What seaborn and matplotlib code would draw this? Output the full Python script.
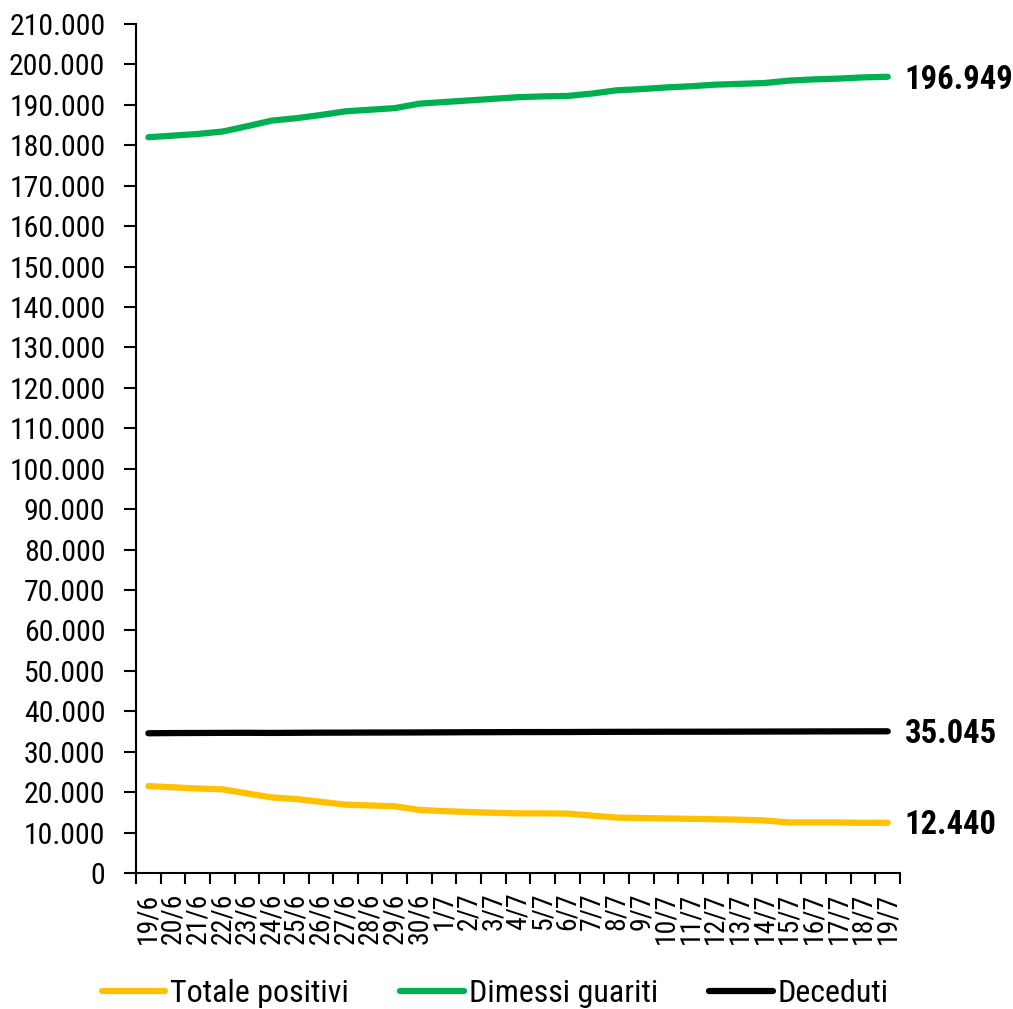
"""Andamento totale positivi, dimessi guariti e deceduti (19/6 - 19/7)."""
import matplotlib
matplotlib.use("Agg")
import matplotlib.pyplot as plt
from matplotlib import font_manager
from matplotlib.ticker import FixedLocator, FuncFormatter
import pandas as pd
import seaborn as sns

DATES = ["19/6", "20/6", "21/6", "22/6", "23/6", "24/6", "25/6", "26/6", "27/6", "28/6",
         "29/6", "30/6", "1/7", "2/7", "3/7", "4/7", "5/7", "6/7", "7/7", "8/7",
         "9/7", "10/7", "11/7", "12/7", "13/7", "14/7", "15/7", "16/7", "17/7", "18/7", "19/7"]

TOTALE_POSITIVI = [21500, 21200, 20900, 20700, 19700, 18700, 18300, 17600, 16900, 16700,
                   16500, 15600, 15300, 15100, 14900, 14750, 14750, 14700, 14200, 13700,
                   13600, 13500, 13400, 13300, 13200, 13000, 12500, 12500, 12500, 12400, 12440]

DIMESSI_GUARITI = [182000, 182400, 182800, 183400, 184700, 186100, 186700, 187500, 188400, 188800,
                   189200, 190300, 190700, 191100, 191500, 191900, 192100, 192200, 192800, 193600,
                   193900, 194300, 194600, 195000, 195200, 195400, 196000, 196300, 196500, 196800, 196949]

DECEDUTI = [34561, 34610, 34634, 34657, 34675, 34644, 34678, 34708, 34716, 34738,
            34744, 34767, 34788, 34818, 34833, 34854, 34861, 34869, 34899, 34914,
            34926, 34938, 34945, 34954, 34967, 34984, 34997, 35017, 35028, 35042, 35045]

SERIES = {
    "Totale positivi": TOTALE_POSITIVI,
    "Dimessi guariti": DIMESSI_GUARITI,
    "Deceduti": DECEDUTI,
}
PALETTE = {"Totale positivi": "#FFC000", "Dimessi guariti": "#00B050", "Deceduti": "#000000"}


def _narrow_font():
    """Look for an Arial Narrow-like face; returns (family, stretch, scale)."""
    entries = font_manager.fontManager.ttflist
    for fam in ("Liberation Sans Narrow", "Arial Narrow", "Roboto Condensed",
                "Open Sans Condensed", "Noto Sans Condensed", "DejaVu Sans Condensed"):
        if any(e.name == fam for e in entries):
            return fam, "normal", 1.0
    for fam in ("Noto Sans", "Roboto", "Open Sans", "DejaVu Sans"):
        for e in entries:
            if e.name == fam and (e.stretch in ("condensed", "semi-condensed")
                                  or "ondensed" in e.fname):
                return fam, "condensed", 1.0
    return "Liberation Sans", "normal", 0.8


FAMILY, STRETCH, SCALE = _narrow_font()

sns.set_theme(style="white", rc={"text.color": "black", "xtick.color": "black",
                                 "ytick.color": "black", "axes.edgecolor": "black"})
plt.rcParams["font.family"] = [FAMILY, "DejaVu Sans"]
plt.rcParams["font.stretch"] = STRETCH

df = pd.concat(
    [pd.DataFrame({"giorno": range(len(DATES)), "valore": vals, "serie": name})
     for name, vals in SERIES.items()],
    ignore_index=True,
)

fig = plt.figure(figsize=(10.13, 10.09), dpi=100)
ax = fig.add_axes([0.1343, 0.1348, 0.8885 - 0.1343, 0.9762 - 0.1348])

sns.lineplot(data=df, x="giorno", y="valore", hue="serie", palette=PALETTE,
             linewidth=4.5, ax=ax, legend=True)
for line in ax.get_lines():
    line.set_solid_capstyle("round")

ax.set_xlim(-0.5, len(DATES) - 0.5)
ax.set_ylim(0, 210000)
ax.set_yticks(range(0, 210001, 10000))
ax.yaxis.set_major_formatter(FuncFormatter(lambda v, _: f"{v:,.0f}".replace(",", ".")))
ax.set_xticks(range(len(DATES)))
ax.set_xticklabels(DATES, rotation=90, va="top")
ax.xaxis.set_minor_locator(FixedLocator([i - 0.5 for i in range(len(DATES) + 1)]))
ax.tick_params(axis="x", which="major", length=0, pad=14, labelsize=20 * SCALE)
ax.tick_params(axis="x", which="minor", length=8, width=1.5, color="black", direction="out")
ax.tick_params(axis="y", length=9, width=1.5, color="black", direction="out",
               labelsize=21.5 * SCALE, pad=13, left=True)
ax.tick_params(axis="x", bottom=True, which="both")
ax.set_xlabel("")
ax.set_ylabel("")
for side in ("top", "right"):
    ax.spines[side].set_visible(False)
for side in ("left", "bottom"):
    ax.spines[side].set_linewidth(1.5)

# Last value labels
last = len(DATES) - 1
for name, vals in SERIES.items():
    ax.annotate(f"{vals[-1]:,}".replace(",", "."), xy=(last, vals[-1]),
                xytext=(12, -2), textcoords="offset points",
                ha="left", va="center", fontsize=23.5 * SCALE, fontweight="bold",
                color="black", annotation_clip=False)

handles, labels = ax.get_legend_handles_labels()
leg = ax.legend(handles, labels, loc="lower center", ncol=3, frameon=False,
                fontsize=23 * SCALE, handlelength=2.0, handletextpad=0.15,
                columnspacing=1.6, borderaxespad=0)
leg.set_bbox_to_anchor((0.489, -0.012), transform=fig.transFigure)
for lh in leg.get_lines():
    lh.set_linewidth(4.5)

fig.savefig("out.png", dpi=100)
